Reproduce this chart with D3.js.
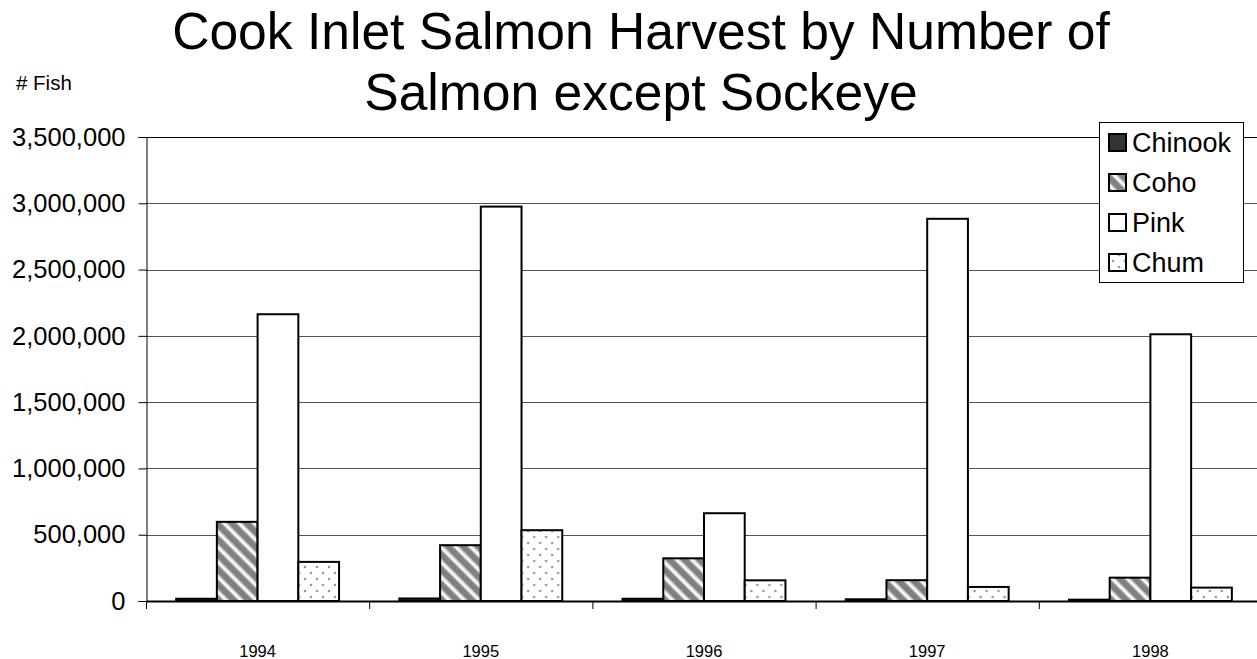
<!DOCTYPE html>
<html>
<head>
<meta charset="utf-8">
<script src="https://cdn.jsdelivr.net/npm/d3@7"></script>
<style>
  html, body { margin: 0; padding: 0; background: #fff; }
  svg { display: block; font-family: "Liberation Sans", Arial, sans-serif; }
</style>
</head>
<body>
<svg id="chart" width="1257" height="659"></svg>
<script>
const years = ["1994", "1995", "1996", "1997", "1998"];
const seriesNames = ["Chinook", "Coho", "Pink", "Chum"];
const chinook = [17000, 19000, 17000, 13000, 10000];
const coho = [597000, 421000, 322000, 157000, 176000];
const pink = [2163000, 2975000, 662000, 2883000, 2012000];
const chum = [295000, 534000, 156000, 106000, 101000];
const yTicks = [0, 500000, 1000000, 1500000, 2000000, 2500000, 3000000, 3500000];
const titleLines = ["Cook Inlet Salmon Harvest by Number of", "Salmon except Sockeye"];
const yLabel = "# Fish";

const seriesValues = [chinook, coho, pink, chum];
const fills = ["#333333", "url(#coho)", "#ffffff", "url(#chum)"];

const svg = d3.select("#chart");
const defs = svg.append("defs");

// Coho: gray with white diagonal stripes
const pc = defs.append("pattern").attr("id", "coho")
  .attr("patternUnits", "userSpaceOnUse")
  .attr("width", 10.6).attr("height", 10.6)
  .attr("patternTransform", "rotate(-45)");
pc.append("rect").attr("width", 10.6).attr("height", 10.6).attr("fill", "#808080");
pc.append("rect").attr("x", 0.8).attr("width", 1.2).attr("height", 10.6).attr("fill", "#c0c0c0");
pc.append("rect").attr("x", 2).attr("width", 2.6).attr("height", 10.6).attr("fill", "#ffffff");
pc.append("rect").attr("x", 4.6).attr("width", 1.2).attr("height", 10.6).attr("fill", "#c0c0c0");

// Chum: white with gray dots
const pd = defs.append("pattern").attr("id", "chum")
  .attr("patternUnits", "userSpaceOnUse")
  .attr("width", 12).attr("height", 12);
pd.append("rect").attr("width", 12).attr("height", 12).attr("fill", "#ffffff");
pd.append("circle").attr("cx", 3).attr("cy", 3).attr("r", 1.3).attr("fill", "#999");
pd.append("circle").attr("cx", 9).attr("cy", 9).attr("r", 1.3).attr("fill", "#999");

const x0 = d3.scaleBand().domain(years).range([146, 1262]).paddingInner(0).paddingOuter(0);
const x1 = d3.scaleBand().domain(seriesNames).range([0, x0.bandwidth()])
  .paddingInner(0).paddingOuter(0.74);
const y = d3.scaleLinear().domain([0, 3500000]).range([601, 137]);

// Gridlines
svg.append("g").selectAll("line").data(yTicks.filter(d => d > 0)).join("line")
  .attr("x1", 146).attr("x2", 1262)
  .attr("y1", d => Math.round(y(d)) + 0.5).attr("y2", d => Math.round(y(d)) + 0.5)
  .attr("stroke", d => d === 3500000 ? "#000" : "#555").attr("stroke-width", 1);

// Y axis
const fmt = d3.format(",");
const yAxis = svg.append("g").attr("transform", "translate(146.5,0)")
  .call(d3.axisLeft(y).tickValues(yTicks).tickFormat(fmt).tickSize(8).tickPadding(13));
yAxis.select(".domain").attr("stroke", "#000");
yAxis.selectAll(".tick line").attr("stroke", "#000");
yAxis.selectAll("text").attr("font-size", 25.5).attr("fill", "#000")
  .attr("font-family", "Liberation Sans, Arial, sans-serif");

// Bars
const groups = svg.append("g").selectAll("g").data(years).join("g")
  .attr("transform", d => `translate(${x0(d)},0)`);
groups.selectAll("rect").data((d, i) => seriesNames.map((s, j) => ({ s, j, v: seriesValues[j][i] })))
  .join("rect")
  .attr("x", d => x1(d.s))
  .attr("width", x1.bandwidth())
  .attr("y", d => y(d.v))
  .attr("height", d => y(0) - y(d.v))
  .attr("fill", d => fills[d.j])
  .attr("stroke", "#000").attr("stroke-width", 2);

// X axis
const xAxis = svg.append("g").attr("transform", "translate(0,601)")
  .call(d3.axisBottom(x0).tickSize(0).tickPadding(44).tickSizeOuter(0));
xAxis.select(".domain").attr("stroke", "#000").attr("stroke-width", 2);
xAxis.selectAll("text").attr("font-size", 16.5).attr("fill", "#000")
  .attr("font-family", "Liberation Sans, Arial, sans-serif");
// category boundary ticks
svg.append("g").selectAll("line").data(years).join("line")
  .attr("x1", d => x0(d) + 0.5).attr("x2", d => x0(d) + 0.5)
  .attr("y1", 601).attr("y2", 609).attr("stroke", "#000");

// Title
svg.append("g").selectAll("text").data(titleLines).join("text")
  .attr("x", 641).attr("y", (d, i) => 49 + i * 61)
  .attr("text-anchor", "middle").attr("font-size", 51.6).attr("fill", "#000")
  .text(d => d);

// Y label
svg.append("text").attr("x", 16).attr("y", 90).attr("font-size", 20.5).attr("fill", "#000").text(yLabel);

// Legend
const lg = svg.append("g");
lg.append("rect").attr("x", 1099.5).attr("y", 122.5).attr("width", 144).attr("height", 160)
  .attr("fill", "#fff").attr("stroke", "#000").attr("stroke-width", 1);
const items = lg.selectAll("g").data(seriesNames).join("g")
  .attr("transform", (d, i) => `translate(0,${i * 40})`);
items.append("rect").attr("x", 1109).attr("y", 134).attr("width", 17).attr("height", 17)
  .attr("fill", (d, i) => fills[i]).attr("stroke", "#000").attr("stroke-width", 2);
items.append("text").attr("x", 1132).attr("y", 152).attr("font-size", 27).attr("fill", "#000")
  .text(d => d);
</script>
</body>
</html>
